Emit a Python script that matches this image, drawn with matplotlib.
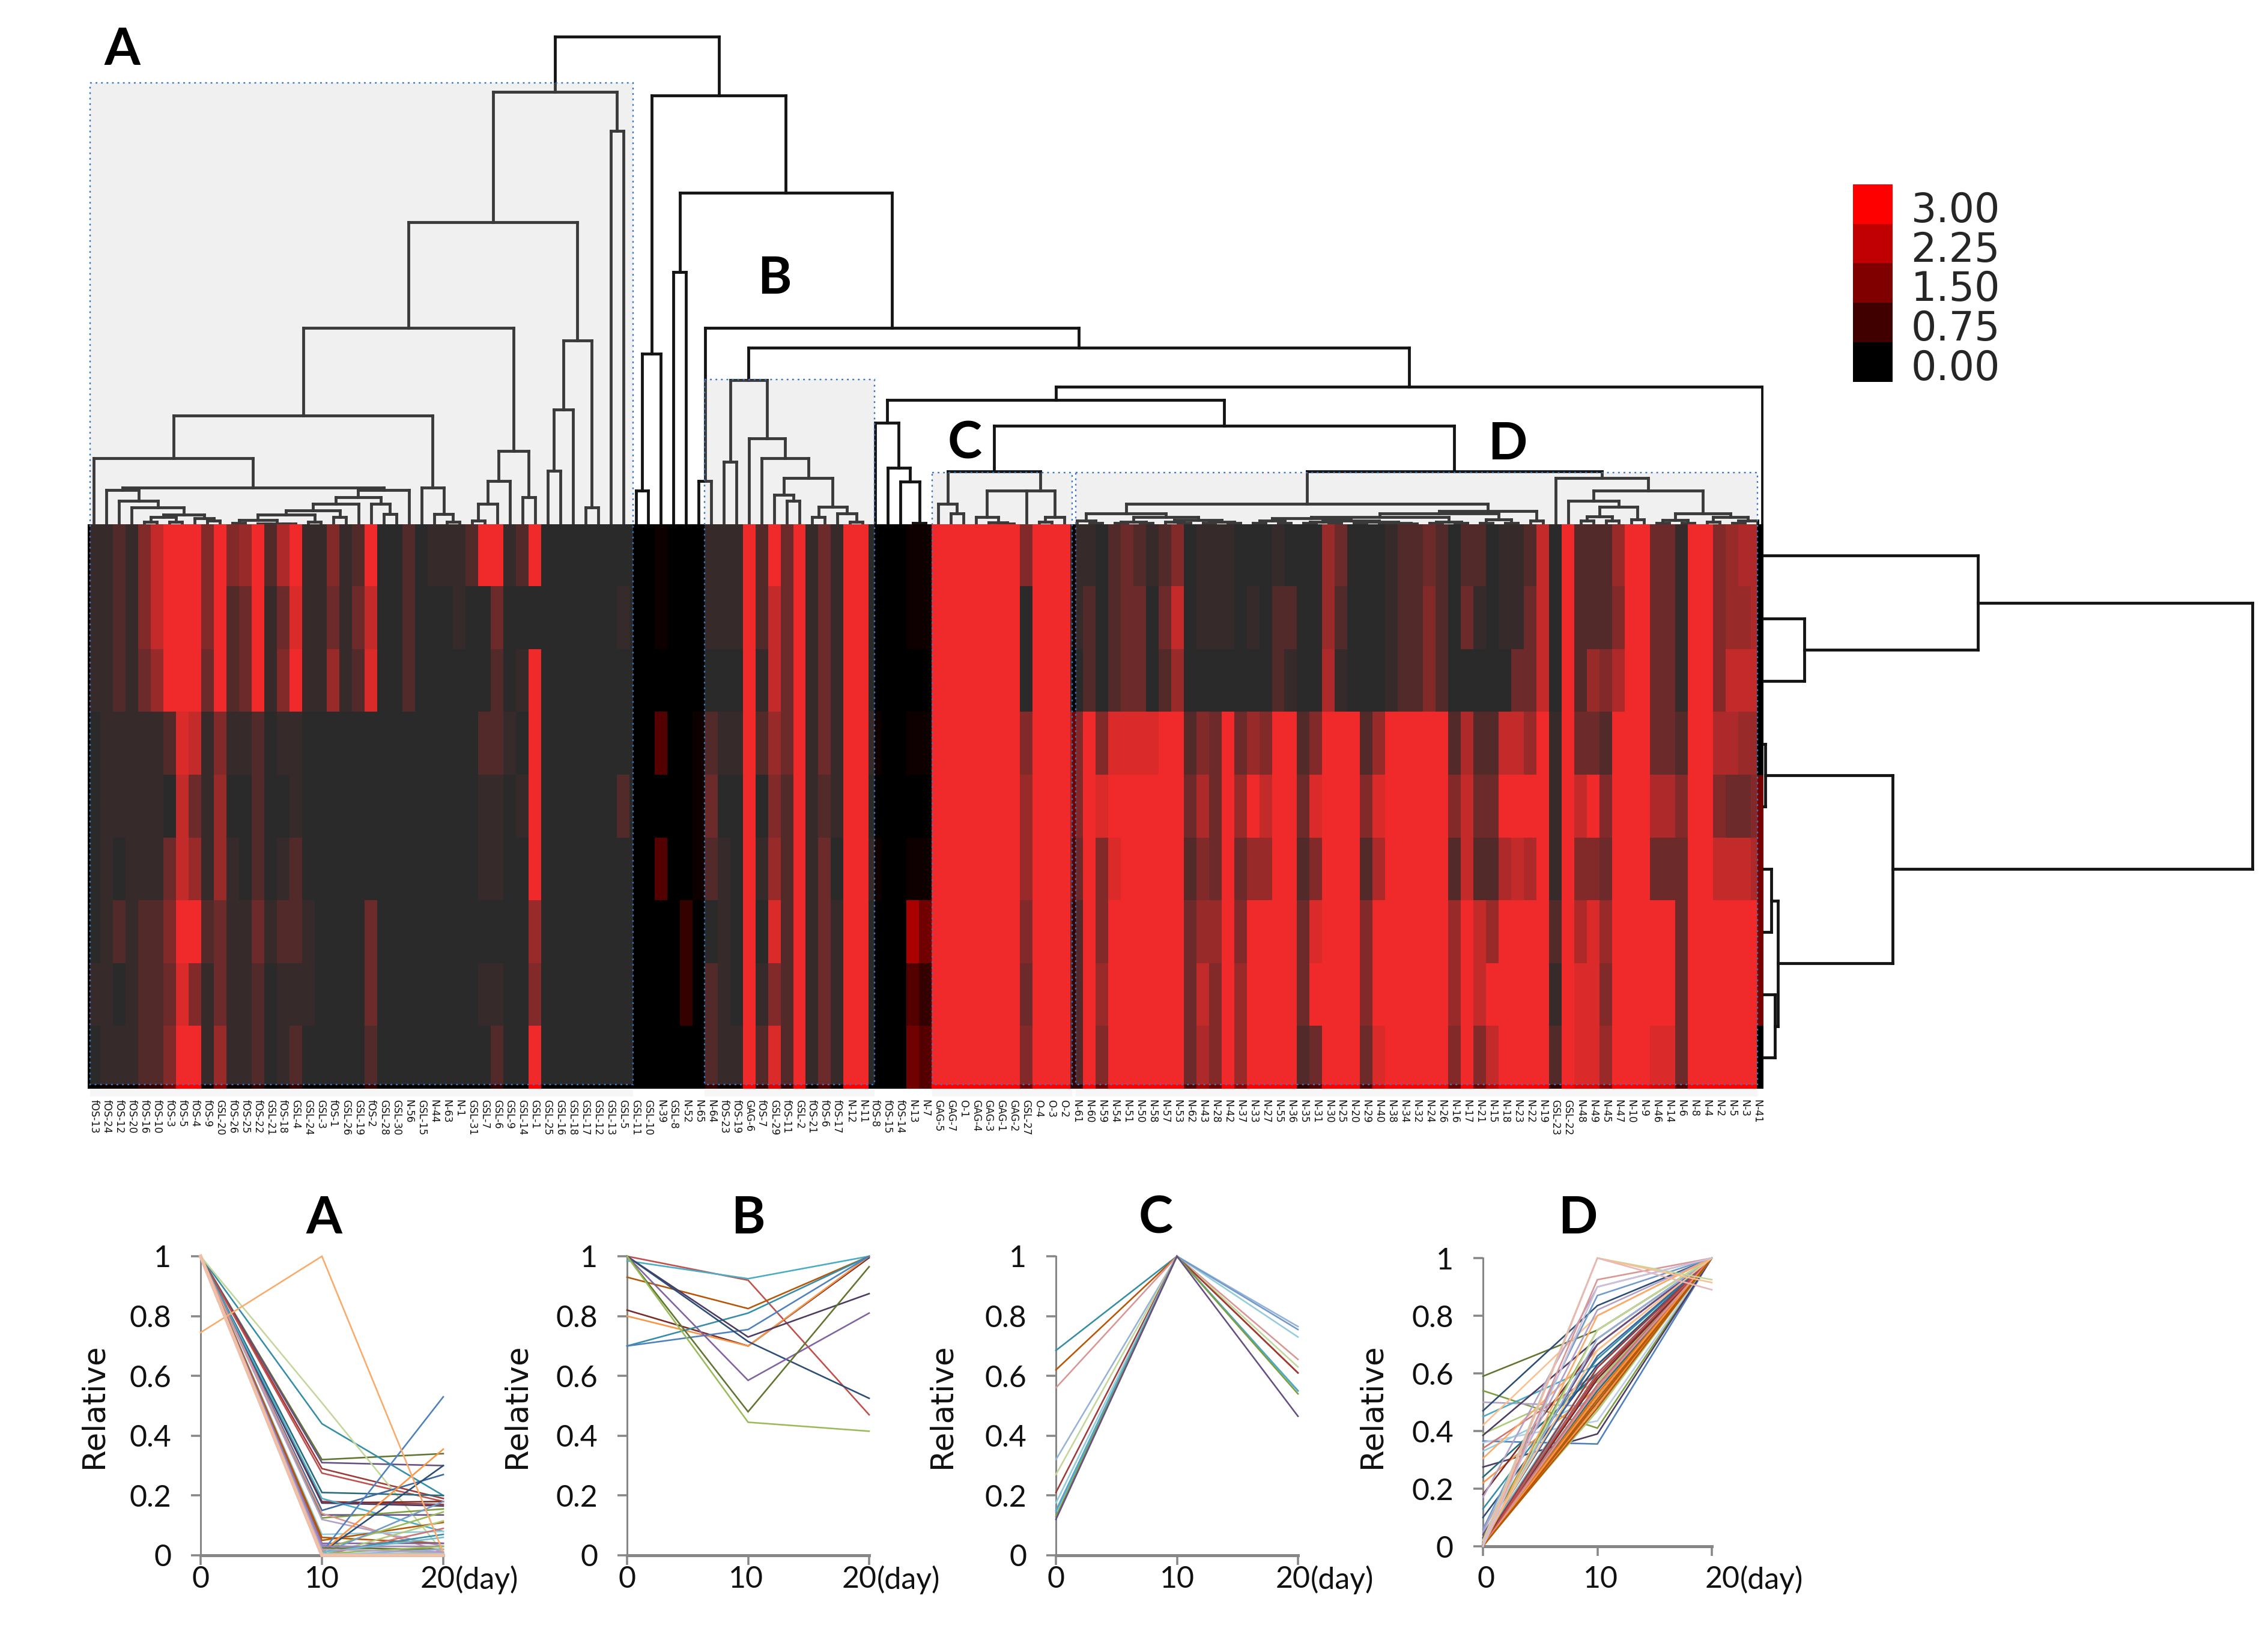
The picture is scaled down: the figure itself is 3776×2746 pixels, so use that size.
import matplotlib
matplotlib.use("Agg")
import matplotlib.pyplot as plt
from matplotlib.collections import LineCollection
from matplotlib.colors import LinearSegmentedColormap
from matplotlib.patches import Rectangle
from matplotlib.transforms import ScaledTranslation
import numpy as np

W, H = 3776, 2746

# ---------- column labels of the heat map ----------
col_labels = """fOS-13 fOS-24 fOS-12 fOS-20 fOS-16 fOS-10 fOS-3 fOS-5 fOS-4 fOS-9 GSL-20 fOS-26 fOS-25 fOS-22 GSL-21 fOS-18
GSL-4 GSL-24 GSL-3 fOS-1 GSL-26 GSL-19 fOS-2 GSL-28 GSL-30 N-56 GSL-15 N-44 N-63 N-1 GSL-31 GSL-7 GSL-6 GSL-9 GSL-14 GSL-1
GSL-25 GSL-16 GSL-18 GSL-17 GSL-12 GSL-13 GSL-5 GSL-11 GSL-10 N-39 GSL-8 N-52 N-65 N-64 fOS-23 fOS-19 GAG-6 fOS-7 GSL-29
fOS-11 GSL-2 fOS-21 fOS-6 fOS-17 N-12 N-11 fOS-8 fOS-15 fOS-14 N-13 N-7 GAG-5 GAG-7 O-1 GAG-4 GAG-3 GAG-1 GAG-2 GSL-27 O-4
O-3 O-2 N-61 N-60 N-59 N-54 N-51 N-50 N-58 N-57 N-53 N-62 N-43 N-28 N-42 N-37 N-33 N-27 N-55 N-36 N-35 N-31 N-30 N-25 N-20
N-29 N-40 N-38 N-34 N-32 N-24 N-26 N-16 N-17 N-21 N-15 N-18 N-23 N-22 N-19 GSL-23 GSL-22 N-48 N-49 N-45 N-47 N-10 N-9 N-46
N-14 N-6 N-8 N-4 N-2 N-5 N-3 N-41""".split()

# ---------- heat map values: each digit is a level ----------
level_values = [0, 0.18, 0.62, 1.0, 1.33, 1.67, 2.0, 2.33, 2.67, 3.0]
row1 = "1121479994" "9459269114" "1290020111" "2991290000000" "001000" "1119293913199" "00011" "99999994999" "1102321240" "1110001000" "5300012232" "0220112709" "2225993319" "94566"
row2 = "1121479994" "9239138113" "1370020001" "0030000000001" "001000" "1119273913199" "00011" "99999990999" "1202330370" "1110102200" "5200012242" "0310113709" "2224993319" "94556"
row3 = "1121359993" "9239149115" "1280020000" "0020190000000" "000000" "0009173913199" "00000" "99999990999" "0202330250" "0000002100" "6100012242" "0000033709" "2546993319" "94777"
row4 = "0111112871" "4112011000" "0000000000" "0221090000000" "003001" "2119253913199" "10011" "99999994999" "4948888992" "4393549924" "9992599999" "2622775919" "3329993329" "96655"
row5 = "0111110731" "5002001000" "0000000000" "0110190000002" "000001" "3009042912199" "00000" "99999995999" "4989999993" "6395979938" "9994899999" "4733999919" "7949996649" "94334"
row6 = "0101113751" "5102012000" "0000000000" "0110090000000" "003001" "2109152913099" "10011" "99999995999" "3948999992" "4393559924" "9992699999" "2722676919" "4439993339" "97776"
row7 = "0121224992" "3113122100" "0030000000" "0000050000000" "000020" "0109082913199" "00064" "99999994999" "2949999993" "5594999938" "9994999999" "5975999929" "6859999939" "99999"
row8 = "1101223841" "3112011100" "0030000000" "0110040000000" "000020" "2109142913199" "00032" "99999993999" "2959999993" "7495999939" "9994999999" "5979999919" "8849999939" "99999"
row9 = "0111224991" "5112012000" "0020000000" "0020090000000" "000000" "2119282913199" "00043" "99999994999" "2949999993" "6495999923" "9993899999" "4947999929" "8859998839" "99999"
heat_rows = [row1, row2, row3, row4, row5, row6, row7, row8, row9]
edge_strip = [0, 0, 0, 0, 1.4, 1.4, 1.4, 1.4, 0]   # the cropped last column

# ---------- top dendrogram: (height, child, child, ...), a child is a column ----------
edge_leaf = 132.4
a_core = (61,
          (57, 1, (39, 2, (28, 3, (16, (12, (4, 4, 5), (4, 6, 7)), (10, 8, (6, 9, 10)))))),
          (57, (45, (34, (23, (16, (7, (2, 11, 12), (1, (1, 13, 14), (1, 15, 16))), (4, 17, 18)), (12, 19, 20)), 21),
                (34, 22, (17, 23, 24))), 25))
a_mid = (110, 0, a_core)
a_l4 = (181, a_mid, (61, 26, (17, 27, (4, 28, 29))))
a_r4 = (122, (72, (34, (6, 30, 31), 32), 33), (45, 34, 35))
a_r3 = (306, (191, (89, 36, 37), 38), (28, 39, 40))
cluster_A = (720, (503, (327, a_l4, a_r4), a_r3), (655, 41, 42))
gap1 = (284, (56, 43, 44), 45)
gap2 = (420, 46, 47)
cluster_B = (240, (104, 50, 51),
             (143, 52, (110, 53, (77, (49, 54, (39, 55, 56)), (29, (12, 57, 58), (18, 59, (4, 60, 61)))))))
gap3 = (169, 62, (94, 63, (71, 64, (2, 65, 66))))
cluster_C = (88, (34, 67, (18, 68, 69)), (56, (12, 70, (3, 71, (1, 72, 73))), 74, (12, (4, 75, 76), 77)))
d_ll = (18, (6, 78, (2, 79, 80)),
        (12, (4, (2, 81, 82), (2, 83, 84)), (7, (4, 85, (2, 86, 87)), (4, (2, 88, 89), (2, 90, 91)))))
d_blob = (10, (6, (2, 92, 93), (2, 94, 95)),
          (6, (4, (2, 96, 97), (2, 98, 99)), (4, (2, 100, 101), (2, (1, 102, 103), (1, 104, 105)))))
d_lr = (22, (18, (12, d_blob, (4, (2, 106, 107), (2, 108, 109))), (8, (2, 110, 111), (2, 112, 113))), (6, 114, 115))
d_right = (77, 116, (56, (39, 117, (29, (13, (6, 118, 119), (6, 120, 121)), (8, 122, 123))),
                     (18, (7, (2, 124, 125), (2, 126, 127)), (12, (4, 128, 129), (6, (2, 130, 131), 132)))))
cluster_D = (88, (34, d_ll, d_lr), d_right)
top_tree = (812, cluster_A,
            (714, gap1, (552, gap2, (327, (72, 48, 49),
             (294, cluster_B, (229, (207, gap3, (164, cluster_C, cluster_D)), edge_leaf))))))
# ---------- side dendrogram over the rows ----------
side_tree = (815, (358, 0, (69, 1, 2)), (216, (4, 3, 4), (25, (14, 5, 6), (20, 7, 8))))

# ---------- colour scale ----------
scale_values = [3.00, 2.25, 1.50, 0.75, 0.00]
scale_labels = ["3.00", "2.25", "1.50", "0.75", "0.00"]

# ---------- line charts: relative level at day 0, 10, 20 ----------
days = [0, 10, 20]
day_ticks = ["0", "10", "20"]
rel_ticks = [0, 0.2, 0.4, 0.6, 0.8, 1]
rel_tick_labels = ["0", "0.2", "0.4", "0.6", "0.8", "1"]

a_day0 = [1, 1, 1, 1, 1, 1, 1, 1, 1, 1, 1, 1, 1, 1, 1, 1, 1, 1, 1, 1, 1, 1, 1, 1, 1, 1, 1, 1, 1, 1, 1, 1, 1, 1, 1, .745, 1, 1, 1, 1]
a_day10 = [.32, .31, .29, .275, .44, .51, .21, .18, .175, .175, .19, .15, .135, .125, .12, .14, .07, .06, .05, .04, .035, .02,
           .01, .01, .01, .005, 0, 0, .01, .025, .03, .005, .01, 0, 0, 1, .02, .005, 0, 0]
a_day20 = [.34, .30, .19, .18, .20, .01, .20, .17, .18, .165, .08, .27, .135, .155, .03, .01, .08, .04, .11, .04, .01, .145,
           .53, .30, .355, .18, .115, .09, .07, .02, .03, .03, .06, .02, .01, .01, .01, .005, 0, 0]
a_colors = ['#5F7530', '#664F83', '#9E3B38', '#C0504D', '#358EA6', '#C3D69B', '#276A7C', '#9E3B38', '#772C2A', '#4D3B62',
            '#4BACC6', '#3A679C', '#664F83', '#7E9C40', '#B2A1C7', '#D99694', '#93CDDD', '#B65708', '#B65708', '#8064A2',
            '#9983B5', '#9BBB59', '#4F81BD', '#2C4D75', '#F79646', '#729ACA', '#AFC97A', '#CD7371', '#358EA6', '#5F7530',
            '#9983B5', '#9BBB59', '#6FBDD1', '#95B3D7', '#AFC97A', '#F9AB6B', '#B2A1C7', '#93CDDD', '#95B3D7', '#F2BFA5']

b_day0 = [1.0, .985, .93, .82, .80, .70, .70, 1.0, 1.0, 1.0, 1.0, 1.0]
b_day10 = [.92, .925, .825, .70, .70, .81, .755, .73, .715, .585, .48, .445]
b_day20 = [.47, 1.0, 1.0, .995, 1.0, 1.0, 1.0, .875, .525, .81, .965, .415]
b_colors = ['#C0504D', '#4BACC6', '#B65708', '#772C2A', '#F79646', '#358EA6', '#4F81BD', '#4D3B62', '#2C4D75', '#8064A2',
            '#5F7530', '#9BBB59']

c_day0 = [.685, .62, .56, .32, .27, .21, .175, .15, .145, .13, .12]
c_day10 = [1, 1, 1, 1, 1, 1, 1, 1, 1, 1, 1]
c_day20 = [.55, .61, .655, .765, .63, .61, .73, .755, .55, .54, .465]
c_colors = ['#358EA6', '#B65708', '#D99694', '#95B3D7', '#C3D69B', '#9E3B38', '#93CDDD', '#729ACA', '#4BACC6', '#7E9C40', '#664F83']

d_day0 = [.59, .54, .50, .47, .45, .42, .39, .385, .365, .36, .34, .33, .305, .275, .24, .22, .18, .17, .13, .10, .06, .05,
          .04, .03, .03, .025, .02, .02, .02, .015, .015, .015, .01, .01, .01, .01, .008, .008, .006, .005, .005, .004, .003,
          .002, .001, 0, 0, .01, .005, 0, .02, .01, .02, 0, .01, 0]
d_day10 = [.75, .41, .485, .835, .63, .80, .57, .72, .355, .435, .60, .52, .68, .39, .60, .55, .70, .90, .65, .63, .87, .82,
           .70, .75, .59, .66, .62, .58, .50, .55, .60, .52, .56, .50, .62, .47, .54, .58, .49, .56, .51, .53, .60,
           .48, .55, .52, .50, .72, .75, .80, .68, .925, 1.0, 1.0, 1.0, .90]
d_day20 = [1, 1, 1, 1, 1, 1, 1, 1, 1, 1, 1, 1, 1, 1, 1, 1, 1, 1, 1, 1, 1, 1, 1, 1, 1, 1, 1, 1, 1, 1, 1, 1, 1, 1, 1, 1, 1, 1,
           1, 1, 1, 1, 1, 1, 1, 1, 1, 1, 1, 1, 1, 1, .925, .915, .89, 1]
d_colors = ['#5F7530', '#7E9C40', '#B2A1C7', '#2C4D75', '#4BACC6', '#FAC090', '#AFC97A', '#4D3B62', '#4F81BD', '#B9CDE5',
            '#CD7371', '#93CDDD', '#F9AB6B', '#4D3B62', '#276A7C', '#F79646', '#772C2A', '#B2A1C7', '#358EA6', '#2C4D75',
            '#729ACA', '#B2A1C7', '#664F83', '#7E9C40', '#9E3B38', '#3A679C', '#6FBDD1', '#C0504D', '#9BBB59', '#8064A2',
            '#4BACC6', '#5F7530', '#358EA6', '#4F81BD', '#9E3B38', '#AFC97A', '#276A7C', '#772C2A', '#F79646', '#CD7371',
            '#B65708', '#E46C0A', '#C0504D', '#B65708', '#D99694', '#F79646', '#B65708', '#95B3D7', '#C3D69B', '#F9AB6B',
            '#FAC090', '#D99694', '#C3D69B', '#FAC090', '#E6B9B8', '#CCC1DA']

# ---------- helpers ----------
fig = plt.figure(figsize=(W / 100, H / 100), dpi=100, facecolor='white')
PT = 72 / 100  # points per pixel


def px_axes(x0, y0, x1, y1, **kw):
    return fig.add_axes([x0 / W, 1 - y1 / H, (x1 - x0) / W, (y1 - y0) / H], **kw)


def tree_segments(node, segs):
    """Return (position, height) of a node and collect its bracket segments."""
    if not isinstance(node, tuple):
        return node + 0.5, 0
    h = node[0]
    kids = [tree_segments(k, segs) for k in node[1:]]
    ps = [k[0] for k in kids]
    for p, kh in kids:
        segs.append(((p, kh), (p, h)))
    segs.append(((min(ps), h), (max(ps), h)))
    # a triple join is two merges at one height: the stem sits on the inner one
    stem = (ps[-1] + ps[-2]) / 2 if len(ps) == 3 else (min(ps) + max(ps)) / 2
    return stem, h


HX0, HX1, HY0, HY1 = 146, 2936, 873, 1813
DENDRO_LW = 4.8 * PT
DENDRO_C = '#141414'

# top dendrogram
ax_top = px_axes(HX0, 0, HX1, HY0)
ax_top.set_xlim(0, 133)
ax_top.set_ylim(0, HY0)
ax_top.axis('off')
segs = []
tree_segments(top_tree, segs)
ax_top.add_collection(LineCollection(segs, colors=DENDRO_C, linewidths=DENDRO_LW, capstyle='projecting'))

# heat map
cmap = LinearSegmentedColormap.from_list('br', ['#000000', '#ff0000'])
ax_heat = px_axes(HX0, HY0, HX1 - 11, HY1)
matrix = np.array([[level_values[int(c)] for c in r] for r in heat_rows])
ax_heat.imshow(matrix, cmap=cmap, vmin=0, vmax=3, aspect='auto', interpolation='nearest',
               extent=(0, matrix.shape[1], matrix.shape[0], 0))
ax_heat.set_xlim(0, (HX1 - 11 - HX0) / 20.98)
ax_heat.set_yticks([])
ax_heat.set_xticks(np.arange(len(col_labels)) + 0.5)
ax_heat.set_xticklabels(col_labels, rotation=-90, fontsize=12, color='#111111', ha='center', va='top',
                        family='DejaVu Sans')
ax_heat.tick_params(axis='x', length=0, pad=13)
for s in ax_heat.spines.values():
    s.set_visible(False)

ax_edge = px_axes(HX1 - 11, HY0, HX1, HY1)
ax_edge.imshow(np.array(edge_strip)[:, None], cmap=cmap, vmin=0, vmax=3, aspect='auto', interpolation='nearest')
ax_edge.axis('off')

# side dendrogram
ax_side = px_axes(HX1 - 1, HY0, W, HY1)
ax_side.set_xlim(0, W - HX1 + 1)
ax_side.set_ylim(9, 0)
ax_side.axis('off')
segs = []
tree_segments(side_tree, segs)
segs = [((a[1], a[0]), (b[1], b[0])) for a, b in segs]
ax_side.add_collection(LineCollection(segs, colors=DENDRO_C, linewidths=DENDRO_LW, capstyle='projecting'))

# colour scale
ax_scale = px_axes(3085, 307, 3151, 636)
ax_scale.imshow(np.array(scale_values)[:, None], cmap=cmap, vmin=0, vmax=3, aspect='auto', interpolation='nearest')
ax_scale.set_xticks([])
ax_scale.yaxis.tick_right()
ax_scale.set_yticks(range(5))
ax_scale.set_yticklabels(scale_labels, fontsize=48, color='#262626', family='DejaVu Sans')
ax_scale.tick_params(axis='y', length=0, pad=22)
for lab in ax_scale.get_yticklabels():
    lab.set_transform(lab.get_transform() + ScaledTranslation(0, -0.04, fig.dpi_scale_trans))
for s in ax_scale.spines.values():
    s.set_visible(False)

# overlay in picture pixels: shaded cluster boxes and panel letters
ov = fig.add_axes([0, 0, 1, 1], facecolor='none')
ov.set_xlim(0, W)
ov.set_ylim(H, 0)
ov.axis('off')
cluster_boxes = [('A', 150, 138, 1054), ('B', 1173, 632, 1456), ('C', 1552, 787, 1785), ('D', 1791, 787, 2926)]
BOT = 1806
for name, x0, y0, x1 in cluster_boxes:
    ov.add_patch(Rectangle((x0, y0), x1 - x0, BOT - y0, facecolor='#bdbdbd', alpha=0.227, edgecolor='none'))
    ov.add_patch(Rectangle((x0, y0), x1 - x0, BOT - y0, facecolor='none', edgecolor='#3a76c4', lw=2.4 * PT,
                           linestyle=(0, (1.2, 2.6))))
    ov.add_patch(Rectangle((x0, HY1 + 1), x1 - x0, 12, facecolor='#f6f6f6', edgecolor='none'))

BIG = dict(fontsize=62, fontweight='bold', family='Lato', color='black', ha='center', va='baseline')
for t, x, y in [('A', 203, 108), ('B', 1289, 489), ('C', 1606, 763), ('D', 2510, 765),
                ('A', 539, 2054), ('B', 1245, 2054), ('C', 1924, 2054), ('D', 2627, 2054)]:
    ov.text(x, y, t, **BIG)

# line charts
GREY = '#868686'
charts = [
    (a_day0, a_day10, a_day20, a_colors, (334, 2092, 738, 2590), 157, (0, 0, -9), 0),
    (b_day0, b_day10, b_day20, b_colors, (1044, 2092, 1447, 2590), 861, (0, -4, -16), 0),
    (c_day0, c_day10, c_day20, c_colors, (1758, 2092, 2161, 2590), 1569, (0, 0, -8), 0),
    (d_day0, d_day10, d_day20, d_colors, (2469, 2095, 2850, 2575), 2284, (5, 5, 18), 15),
]
for day0, day10, day20, colors, box, label_x, dx, drop in charts:
    ax = px_axes(*box)
    ax.patch.set_alpha(0)
    ax.set_xlim(0, 20)
    ax.set_ylim(0, 1)
    n = len(day0)
    for i, (a, b, c, col) in enumerate(zip(day0, day10, day20, colors)):
        thick = i >= n - 2 and day0 is a_day0
        ax.plot(days, [a, b, c], color=col, lw=(5.5 if thick else 2.6) * PT, clip_on=False, solid_joinstyle='miter',
                zorder=3)
    ax.set_xticks(days)
    ax.set_xticklabels(day_ticks, fontsize=36, family='Lato', color='#111111')
    ax.set_yticks(rel_ticks)
    ax.set_yticklabels(rel_tick_labels, fontsize=36, family='Lato', color='#111111')
    ax.tick_params(axis='both', length=16 * PT, width=3.5 * PT, color=GREY)
    ax.tick_params(axis='y', pad=33 * PT)
    ax.tick_params(axis='x', pad=(1 + drop) * PT)
    for lab, d in zip(ax.get_xticklabels(), dx):
        lab.set_transform(lab.get_transform() + ScaledTranslation(d / 100, 0, fig.dpi_scale_trans))
    for s in ('top', 'right'):
        ax.spines[s].set_visible(False)
    ax.spines['left'].set_color(GREY)
    ax.spines['left'].set_linewidth(3 * PT)
    ax.spines['bottom'].set_color(GREY)
    ax.spines['bottom'].set_linewidth(5 * PT)
    ax.annotate('(day)', xy=(20, 0), xycoords='data', xytext=(29 + dx[2], -17 - drop), textcoords='offset pixels',
                fontsize=36, family='Lato', color='#111111', ha='left', va='top', annotation_clip=False)
    ov.text(label_x, 2341, 'Relative', rotation=90, fontsize=37, family='DejaVu Sans',
            color='#111111', ha='center', va='center')

fig.savefig('out.png', dpi=100)
